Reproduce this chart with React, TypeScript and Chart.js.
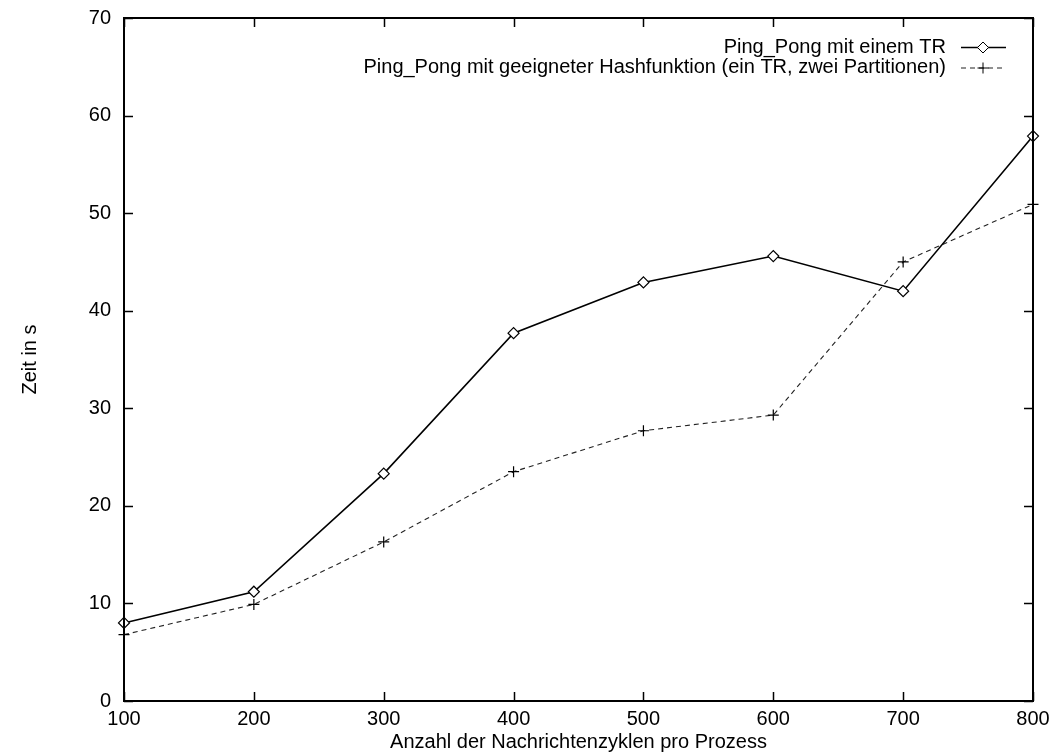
import React, { useEffect, useRef } from "react";
import { Chart, registerables } from "chart.js";

Chart.register(...registerables);

const categories = [100, 200, 300, 400, 500, 600, 700, 800];
const seriesOne = [8.0, 11.2, 23.3, 37.7, 42.9, 45.6, 42.0, 57.9];
const seriesTwo = [6.8, 9.9, 16.3, 23.5, 27.7, 29.3, 45.0, 50.9];
const xTickValues = [100, 200, 300, 400, 500, 600, 700, 800];
const yTickValues = [0, 10, 20, 30, 40, 50, 60, 70];
const seriesLabels = [
  "Ping_Pong mit einem TR",
  "Ping_Pong mit geeigneter Hashfunktion (ein TR, zwei Partitionen)",
];
const xTitle = "Anzahl der Nachrichtenzyklen pro Prozess";
const yTitle = "Zeit in s";

const FONT = '"Liberation Sans", Arial, Helvetica, sans-serif';

function drawMarker(ctx: CanvasRenderingContext2D, style: string, x: number, y: number, r: number) {
  ctx.beginPath();
  ctx.setLineDash([]);
  if (style === "rectRot") {
    ctx.moveTo(x, y - r);
    ctx.lineTo(x + r, y);
    ctx.lineTo(x, y + r);
    ctx.lineTo(x - r, y);
    ctx.closePath();
    ctx.fillStyle = "#fff";
    ctx.fill();
    ctx.stroke();
  } else {
    ctx.moveTo(x - r, y);
    ctx.lineTo(x + r, y);
    ctx.moveTo(x, y - r);
    ctx.lineTo(x, y + r);
    ctx.stroke();
  }
}

const framePlugin = {
  id: "gnuplotFrame",
  afterDraw(chart: any) {
    const { ctx, chartArea, scales } = chart;
    const { left, right, top, bottom } = chartArea;
    const xs = scales.x;
    const ys = scales.y;
    ctx.save();
    ctx.strokeStyle = "#000";
    ctx.lineWidth = 1.5;
    ctx.setLineDash([]);
    ctx.beginPath();
    for (const v of xTickValues) {
      const px = Math.round(xs.getPixelForValue(v)) + 0.5;
      ctx.moveTo(px, bottom);
      ctx.lineTo(px, bottom - 9);
      ctx.moveTo(px, top);
      ctx.lineTo(px, top + 9);
    }
    for (const v of yTickValues) {
      const py = Math.round(ys.getPixelForValue(v)) + 0.5;
      ctx.moveTo(left, py);
      ctx.lineTo(left + 9, py);
      ctx.moveTo(right, py);
      ctx.lineTo(right - 9, py);
    }
    ctx.stroke();
    ctx.lineWidth = 2;
    ctx.strokeRect(left, top, right - left, bottom - top);

    // legend (gnuplot style, top right inside)
    ctx.font = `20px ${FONT}`;
    ctx.textAlign = "right";
    ctx.textBaseline = "middle";
    chart.data.datasets.forEach((ds: any, i: number) => {
      const yy = 47 + i * 20.5;
      ctx.fillStyle = "#000";
      ctx.fillText(ds.label, 946, yy);
      ctx.strokeStyle = ds.borderColor;
      ctx.lineWidth = ds.borderWidth;
      ctx.setLineDash(ds.borderDash || []);
      ctx.beginPath();
      ctx.moveTo(961, yy + 0.5);
      ctx.lineTo(1006, yy + 0.5);
      ctx.stroke();
      ctx.lineWidth = 1;
      ctx.strokeStyle = "#000";
      drawMarker(ctx, ds.pointStyle, 983, yy + 0.5, 5.5);
    });
    ctx.restore();
  },
};

export default function App() {
  const canvasRef = useRef<HTMLCanvasElement | null>(null);

  useEffect(() => {
    if (!canvasRef.current) return;
    const chart = new Chart(canvasRef.current, {
      type: "line",
      data: {
        datasets: [
          {
            label: seriesLabels[0],
            data: categories.map((c, i) => ({ x: c, y: seriesOne[i] })),
            borderColor: "#000",
            borderWidth: 1.6,
            pointStyle: "rectRot",
            pointRadius: 5.5,
            pointBorderWidth: 1.2,
            pointBackgroundColor: "#fff",
            pointBorderColor: "#000",
            tension: 0,
            clip: false as any,
          },
          {
            label: seriesLabels[1],
            data: categories.map((c, i) => ({ x: c, y: seriesTwo[i] })),
            borderColor: "#222",
            borderWidth: 1.1,
            borderDash: [5, 4],
            pointStyle: "cross",
            pointRadius: 5.5,
            pointBorderWidth: 1.2,
            pointBorderColor: "#000",
            tension: 0,
            clip: false as any,
          },
        ],
      },
      options: {
        responsive: false,
        animation: false,
        layout: { padding: { top: 18, right: 19, left: 0, bottom: 0 } },
        plugins: {
          legend: { display: false },
          tooltip: { enabled: false },
        },
        scales: {
          x: {
            type: "linear",
            min: 100,
            max: 800,
            grid: { display: false, drawTicks: false },
            border: { display: false },
            ticks: {
              stepSize: 100,
              color: "#000",
              font: { family: FONT, size: 20 },
              padding: 6,
              maxRotation: 0,
            },
            title: {
              display: true,
              text: xTitle,
              color: "#000",
              font: { family: FONT, size: 20 },
              padding: { top: 0, bottom: 0 },
            },
            afterFit: (s: any) => {
              s.height = 53;
              s.paddingLeft = 0;
              s.paddingRight = 0;
              s.paddingTop = 0;
              s.paddingBottom = 0;
            },
          },
          y: {
            type: "linear",
            min: 0,
            max: 70,
            grid: { display: false, drawTicks: false },
            border: { display: false },
            ticks: {
              stepSize: 10,
              color: "#000",
              font: { family: FONT, size: 20 },
              padding: 13,
            },
            title: {
              display: true,
              text: yTitle,
              color: "#000",
              font: { family: FONT, size: 20 },
              padding: { top: 18, bottom: 0 },
            },
            afterFit: (s: any) => {
              s.width = 124;
              s.paddingLeft = 0;
              s.paddingRight = 0;
              s.paddingTop = 0;
              s.paddingBottom = 0;
            },
          },
        },
      },
      plugins: [framePlugin],
    });
    return () => chart.destroy();
  }, []);

  return (
    <canvas
      ref={canvasRef}
      width={1052}
      height={754}
      style={{ position: "absolute", left: 0, top: 0, display: "block", width: 1052, height: 754 }}
    />
  );
}
